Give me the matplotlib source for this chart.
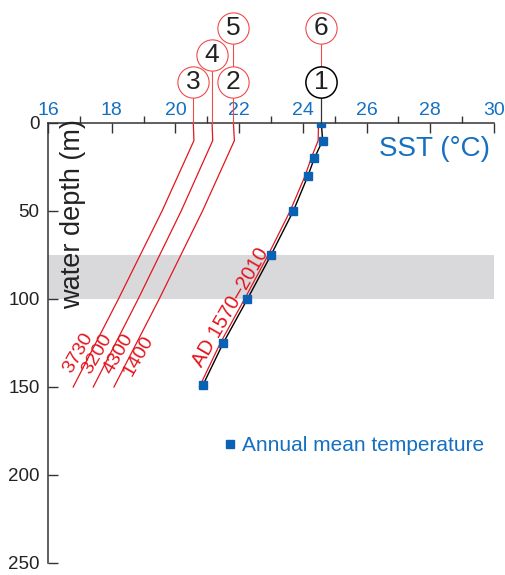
import matplotlib.pyplot as plt
from matplotlib.lines import Line2D
from matplotlib.ticker import MultipleLocator

plt.rcParams['font.family'] = ['Liberation Sans', 'DejaVu Sans']

# depth (m) and temperatures (°C)
depth_obs = [0, 10, 20, 30, 50, 75, 100, 125, 149]
sst_obs = [24.58, 24.62, 24.36, 24.16, 23.70, 23.00, 22.26, 21.50, 20.86]

depth_model = [0, 10, 20, 30, 50, 75, 100, 125, 150]
sst_ad = [24.49, 24.48, 24.26, 24.07, 23.60, 22.91, 22.17, 21.41, 20.75]

depth_paleo = [0, 10, 50, 100, 150]
sst_3730 = [20.56, 20.58, 19.58, 18.21, 16.79]
sst_3200 = [21.15, 21.17, 20.18, 18.83, 17.42]
sst_4300 = [21.82, 21.85, 20.85, 19.49, 18.07]

paleo_labels = ['3730', '3200', '4300', '1400']
paleo_label_x = [16.95, 17.55, 18.22, 18.85]
paleo_label_y = [130.5, 131.2, 131.4, 132.2]

blue = '#1470c0'
red = '#e3151d'
pink = '#ef4b4b'

fig = plt.figure(figsize=(5.06, 5.75), dpi=100)
ax = fig.add_axes([0.0949, 0.0209, 0.8814, 0.7652])

ax.set_xlim(16, 30)
ax.set_ylim(250, 0)

# gray band 75-100 m
ax.axhspan(75, 100, color='#d9d9dc', zorder=0, lw=0)

ax.plot(sst_obs, depth_obs, color='black', lw=1.0, zorder=3)
ax.plot(sst_ad, depth_model, color=red, lw=0.9, zorder=4)
for s in [sst_3730, sst_3200, sst_4300]:
    ax.plot(s, depth_paleo, color=red, lw=0.9, zorder=4)
ax.plot(sst_obs, depth_obs, ls='', marker='s', ms=6, color='#0b62b5', zorder=5)

for lab, x, y in zip(paleo_labels, paleo_label_x, paleo_label_y):
    ax.text(x, y, lab, color=red, fontsize=14, rotation=60,
            rotation_mode='anchor', ha='center', va='center')
ax.text(21.73, 105, 'AD 1570–2010', color=red, fontsize=14.5, rotation=60,
        rotation_mode='anchor', ha='center', va='center')

# numbered core circles above the axis
circ_x = [sst_obs[0], sst_4300[0], sst_3730[0], sst_3200[0], sst_4300[0], sst_obs[0]]
circ_y = [-23.1, -23.1, -23.1, -38.6, -53.8, -53.8]
circ_lab = ['1', '2', '3', '4', '5', '6']
circ_edge = ['black', pink, pink, pink, pink, pink]

ax.plot([circ_x[5], circ_x[0]], [circ_y[5], circ_y[0]], color=pink, lw=0.8, clip_on=False, zorder=6)
ax.plot([circ_x[0], circ_x[0]], [circ_y[0], 0], color='#333333', lw=0.9, clip_on=False, zorder=6)
for i in [2, 3, 4]:
    ax.plot([circ_x[i], circ_x[i]], [circ_y[i], 0], color=pink, lw=0.8, clip_on=False, zorder=6)

for x, y, lab, ec in zip(circ_x, circ_y, circ_lab, circ_edge):
    ax.plot(x, y, marker='o', ms=22.5, mfc='white', mec=ec,
            mew=1.1 if ec == 'black' else 0.8, clip_on=False, zorder=7)
    ax.text(x, y, lab, fontsize=19, ha='center', va='center', color='#222222',
            zorder=8, clip_on=False)

# axes styling
for side in ['right', 'bottom']:
    ax.spines[side].set_visible(False)
for side in ['left', 'top']:
    ax.spines[side].set_color('#333333')
    ax.spines[side].set_linewidth(1.1)

ax.xaxis.set_ticks_position('top')
ax.xaxis.set_major_locator(MultipleLocator(2))
ax.xaxis.set_minor_locator(MultipleLocator(1))
ax.tick_params(axis='x', which='major', direction='in', length=7, width=1,
               color='#333333', labelcolor=blue, labelsize=14, pad=3)
ax.tick_params(axis='x', which='minor', direction='out', length=5, width=1, color='#333333')

ax.set_yticks([0, 50, 100, 150, 200, 250])
ax.tick_params(axis='y', direction='in', length=7, width=1, color='#333333',
               labelsize=13.5, labelcolor='#222222', pad=6)

ax.text(29.87, 15, 'SST (°C)', color=blue, fontsize=20, ha='right', va='center')
ax.text(16.78, 51.5, 'water depth (m)', fontsize=19.5, rotation=90, ha='center',
        va='center', color='#222222')

handle = Line2D([], [], ls='', marker='s', ms=6, color='#0b62b5')
ax.legend([handle], ['Annual mean temperature'], loc='center left',
          bbox_to_anchor=(0.395, 0.266), frameon=False, fontsize=15,
          labelcolor=blue, handlelength=0.6, handletextpad=0.25, borderpad=0,
          borderaxespad=0)

fig.savefig('out.png', dpi=100)
